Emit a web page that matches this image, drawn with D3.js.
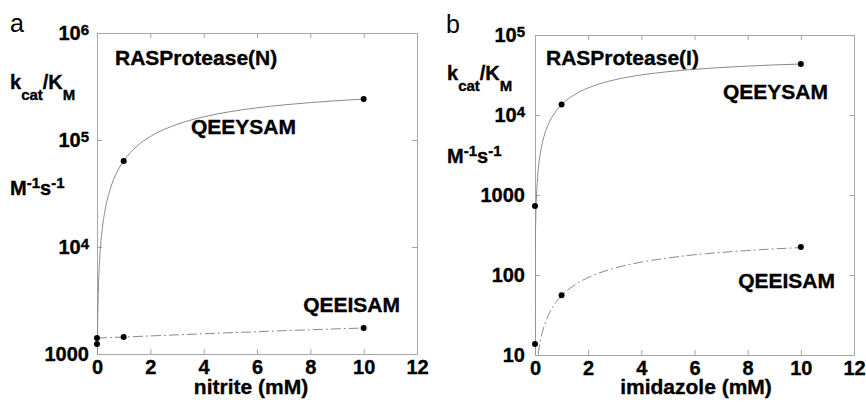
<!DOCTYPE html>
<html>
<head>
<meta charset="utf-8">
<script src="https://cdn.jsdelivr.net/npm/d3@7"></script>
<style>
body { margin: 0; background: #fff; }
svg text { font-family: "Liberation Sans", Arial, sans-serif; }
.heavy { stroke: #000; stroke-width: 0.35px; }
</style>
</head>
<body>
<svg id="chart" width="866" height="402"></svg>
<script>
// measured points, concentration in mM
var conc = [0, 1, 10];
var nitriteQEEYSAM = [1240, 63700, 241000];
var nitriteQEEISAM = [1410, 1440, 1750];
var imidazoleQEEYSAM = [730, 13500, 43400];
var imidazoleQEEISAM = [13.7, 55.7, 224];

// fitted curves
var nitriteQEEYSAMFitX = [0.013, 0.02, 0.05, 0.1, 0.2, 0.3, 0.5, 0.75, 1, 1.5, 2, 3, 4, 5, 6, 7, 8, 9, 10];
var nitriteQEEYSAMFit = [1010, 1550, 3850, 7620, 14900, 21900, 35000, 50100, 63700, 87600, 107700, 140000, 164600, 184100, 199800, 212800, 223700, 233000, 241000];
var nitriteQEEISAMFitX = [0, 1, 2, 4, 6, 8, 10];
var nitriteQEEISAMFit = [1410, 1440, 1475, 1545, 1615, 1685, 1750];
var imidazoleQEEYSAMFitX = [0.0006, 0.001, 0.003, 0.01, 0.03, 0.05, 0.1, 0.2, 0.3, 0.5, 0.75, 1, 1.5, 2, 3, 4, 5, 6, 7, 8, 9, 10];
var imidazoleQEEYSAMFit = [10.5, 17.6, 52.6, 175, 522, 865, 1700, 3310, 4830, 7620, 10720, 13460, 18080, 21830, 27530, 31660, 34800, 37260, 39240, 40870, 42240, 43400];
var imidazoleQEEISAMFitX = [0.12, 0.15, 0.2, 0.3, 0.5, 0.75, 1, 1.5, 2, 3, 4, 5, 6, 7, 8, 9, 10];
var imidazoleQEEISAMFit = [10.2, 12.0, 14.9, 20.5, 31.2, 43.6, 55.0, 75.4, 93.0, 122, 145, 163, 179, 191.5, 202, 212, 220];

// ticks
var xTicks = [0, 2, 4, 6, 8, 10, 12];
var nitriteYTicks = [1e3, 1e4, 1e5, 1e6];
var nitriteYLabels = [["1000"], ["10", "4"], ["10", "5"], ["10", "6"]];
var imidazoleYTicks = [10, 100, 1e3, 1e4, 1e5];
var imidazoleYLabels = [["10"], ["100"], ["1000"], ["10", "4"], ["10", "5"]];

var svg = d3.select("#chart");
var frameColor = "#a6a6a6",
    curveColor = "#8a8a8a";

var panels = [
  {
    id: "a", letter: "a", letterX: 10, letterY: 32,
    left: 97, top: 33, right: 417, bottom: 354,
    yDomain: [1e3, 1e6], yTicks: nitriteYTicks, yLabels: nitriteYLabels, yPad: 8,
    xTitle: "nitrite (mM)", xTitleX: 251,
    title: "RASProtease(N)", titleX: 115, titleY: 65,
    ytX: 10, ytY1: 89, ytY2: 195,
    series: [
      {name: "QEEYSAM", pts: nitriteQEEYSAM, fx: nitriteQEEYSAMFitX, fy: nitriteQEEYSAMFit, dash: null, lx: 296, ly: 134},
      {name: "QEEISAM", pts: nitriteQEEISAM, fx: nitriteQEEISAMFitX, fy: nitriteQEEISAMFit, dash: "10,3,2,3", lx: 400, ly: 312}
    ]
  },
  {
    id: "b", letter: "b", letterX: 446, letterY: 33,
    left: 535, top: 35, right: 854, bottom: 355,
    yDomain: [10, 1e5], yTicks: imidazoleYTicks, yLabels: imidazoleYLabels, yPad: 10,
    xTitle: "imidazole (mM)", xTitleX: 696,
    title: "RASProtease(I)", titleX: 546, titleY: 65,
    ytX: 447, ytY1: 80, ytY2: 163,
    series: [
      {name: "QEEYSAM", pts: imidazoleQEEYSAM, fx: imidazoleQEEYSAMFitX, fy: imidazoleQEEYSAMFit, dash: null, lx: 828, ly: 99},
      {name: "QEEISAM", pts: imidazoleQEEISAM, fx: imidazoleQEEISAMFitX, fy: imidazoleQEEISAMFit, dash: "10,3,2,3", lx: 835, ly: 288}
    ]
  }
];

function styleAxis(sel) {
  sel.attr("font-family", null).attr("font-size", 20).attr("font-weight", "bold");
  sel.select(".domain").attr("stroke", frameColor);
  sel.selectAll(".tick line").attr("stroke", frameColor);
  sel.selectAll(".tick text").attr("fill", "#000").attr("class", "heavy");
}

panels.forEach(function(p) {
  var x = d3.scaleLinear().domain([0, 12]).range([p.left, p.right]);
  var y = d3.scaleLog().domain(p.yDomain).range([p.bottom, p.top]);
  var g = svg.append("g").attr("class", "panel-" + p.id);

  g.append("clipPath").attr("id", "clip-" + p.id)
    .append("rect")
    .attr("x", p.left).attr("y", p.top)
    .attr("width", p.right - p.left).attr("height", p.bottom - p.top);

  // axes, ticks pointing inward on all four sides
  g.append("g")
    .attr("transform", "translate(0," + p.bottom + ")")
    .call(d3.axisBottom(x).tickValues(xTicks).tickSize(-5).tickSizeOuter(0).tickPadding(6))
    .call(styleAxis);
  g.append("g")
    .attr("transform", "translate(0," + p.top + ")")
    .call(d3.axisTop(x).tickValues(xTicks).tickSize(-5).tickSizeOuter(0).tickFormat(""))
    .call(styleAxis);
  g.append("g")
    .attr("transform", "translate(" + p.right + ",0)")
    .call(d3.axisRight(y).tickValues(p.yTicks).tickSize(-5).tickSizeOuter(0).tickFormat(""))
    .call(styleAxis);
  var yAxis = g.append("g")
    .attr("transform", "translate(" + p.left + ",0)")
    .call(d3.axisLeft(y).tickValues(p.yTicks).tickSize(-5).tickSizeOuter(0).tickPadding(p.yPad))
    .call(styleAxis);

  // powers of ten as superscripts
  yAxis.selectAll(".tick text").each(function(d, i) {
    var lab = p.yLabels[i], t = d3.select(this).text(null);
    t.append("tspan").text(lab[0]);
    if (lab[1]) t.append("tspan").attr("dy", -5).attr("font-size", 15).text(lab[1]);
  });

  // fitted curves
  var line = d3.line()
    .x(function(d) { return x(d[0]); })
    .y(function(d) { return y(d[1]); })
    .curve(d3.curveMonotoneX);

  p.series.forEach(function(s) {
    g.append("path")
      .datum(d3.zip(s.fx, s.fy))
      .attr("clip-path", "url(#clip-" + p.id + ")")
      .attr("fill", "none")
      .attr("stroke", curveColor)
      .attr("stroke-width", 1)
      .attr("stroke-dasharray", s.dash)
      .attr("d", line);
  });

  p.series.forEach(function(s) {
    g.selectAll(null)
      .data(d3.zip(conc, s.pts))
      .enter().append("circle")
      .attr("cx", function(d) { return x(d[0]); })
      .attr("cy", function(d) { return y(d[1]); })
      .attr("r", 3)
      .attr("fill", "#000");

    g.append("text")
      .attr("class", "heavy")
      .attr("x", s.lx).attr("y", s.ly)
      .attr("text-anchor", "end")
      .attr("font-size", 21).attr("font-weight", "bold")
      .text(s.name);
  });

  g.append("text")
    .attr("class", "heavy")
    .attr("x", p.titleX).attr("y", p.titleY)
    .attr("font-size", 21).attr("font-weight", "bold")
    .text(p.title);

  g.append("text")
    .attr("class", "heavy")
    .attr("x", p.xTitleX).attr("y", 394)
    .attr("text-anchor", "middle")
    .attr("font-size", 21).attr("font-weight", "bold")
    .text(p.xTitle);

  // y title: kcat/KM  and  M-1 s-1
  var yt = g.append("text")
    .attr("class", "heavy")
    .attr("x", p.ytX).attr("y", p.ytY1)
    .attr("font-size", 20).attr("font-weight", "bold");
  yt.append("tspan").text("k");
  yt.append("tspan").attr("dy", 11).attr("font-size", 15).text("cat");
  yt.append("tspan").attr("dy", -11).text("/K");
  yt.append("tspan").attr("dy", 11).attr("font-size", 15).text("M");

  var yu = g.append("text")
    .attr("class", "heavy")
    .attr("x", p.ytX).attr("y", p.ytY2)
    .attr("font-size", 20).attr("font-weight", "bold");
  yu.append("tspan").text("M");
  yu.append("tspan").attr("dy", -7).attr("font-size", 15).text("-1");
  yu.append("tspan").attr("dy", 7).text("s");
  yu.append("tspan").attr("dy", -7).attr("font-size", 15).text("-1");

  g.append("text")
    .attr("x", p.letterX).attr("y", p.letterY)
    .attr("font-size", 25)
    .text(p.letter);
});
</script>
</body>
</html>
